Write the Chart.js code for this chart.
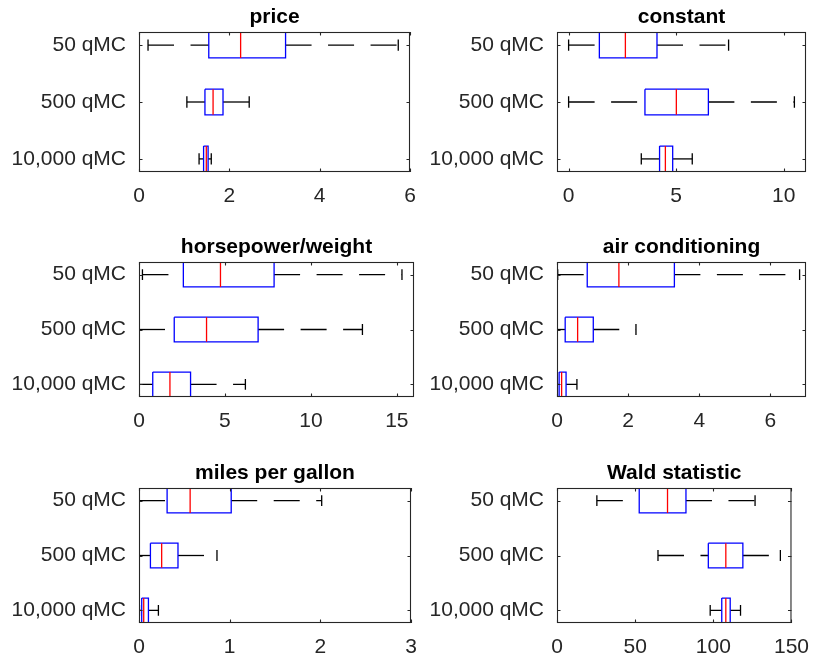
<!DOCTYPE html>
<html><head><meta charset="utf-8">
<script src="https://cdn.jsdelivr.net/npm/chart.js@4/dist/chart.umd.min.js"></script>
<style>
html,body{margin:0;padding:0;background:#fff;}
#wrap{position:relative;width:821px;height:660px;background:#fff;}
#wrap canvas{position:absolute;left:0;top:0;}
</style>
</head><body><div id="wrap"></div>
<script>
// ---- data ----
const categories = ['50 qMC', '500 qMC', '10,000 qMC'];
const titles = ['price', 'constant', 'horsepower/weight', 'air conditioning', 'miles per gallon', 'Wald statistic'];

// price
const priceLow = [0.2, 1.06, 1.33];
const priceQ1  = [1.545, 1.46, 1.43];
const priceMed = [2.25, 1.64, 1.49];
const priceQ3  = [3.245, 1.86, 1.53];
const priceHigh= [5.74, 2.44, 1.6];
const priceTicks = [0, 2, 4, 6];

// constant
const constLow = [0, 0, 3.38];
const constQ1  = [1.43, 3.55, 4.23];
const constMed = [2.64, 5.01, 4.5];
const constQ3  = [4.11, 6.5, 4.84];
const constHigh= [7.44, 10.5, 5.75];
const constTicks = [0, 5, 10];

// horsepower/weight
const hpwLow = [0.2, 0, 0];
const hpwQ1  = [2.58, 2.05, 0.8];
const hpwMed = [4.74, 3.93, 1.8];
const hpwQ3  = [7.86, 6.93, 3.0];
const hpwHigh= [15.3, 13.0, 6.19];
const hpwTicks = [0, 5, 10, 15];

// air conditioning
const acLow = [0.02, 0.01, 0.0];
const acQ1  = [0.85, 0.23, 0.06];
const acMed = [1.74, 0.58, 0.13];
const acQ3  = [3.3, 1.02, 0.255];
const acHigh= [6.82, 2.22, 0.56];
const acTicks = [0, 2, 4, 6];

// miles per gallon
const mpgLow = [0, 0, 0.005];
const mpgQ1  = [0.31, 0.126, 0.03];
const mpgMed = [0.564, 0.25, 0.052];
const mpgQ3  = [1.017, 0.43, 0.104];
const mpgHigh= [2.015, 0.86, 0.214];
const mpgTicks = [0, 1, 2, 3];

// Wald statistic
const waldLow = [25.5, 64.6, 98];
const waldQ1  = [52.6, 96.8, 105.4];
const waldMed = [70.7, 108, 108];
const waldQ3  = [82.5, 118.9, 110.8];
const waldHigh= [126.7, 142.9, 117.4];
const waldTicks = [0, 50, 100, 150];

// ---- layout (pixel plot areas and axis limits) ----
const panels = [
  {stats:[priceLow,priceQ1,priceMed,priceQ3,priceHigh], ticks:priceTicks, xmin:0, xmax:6,   L:139, R:410, T:32,  B:172},
  {stats:[constLow,constQ1,constMed,constQ3,constHigh], ticks:constTicks, xmin:-0.54, xmax:11.04, L:557, R:806, T:32,  B:172},
  {stats:[hpwLow,hpwQ1,hpwMed,hpwQ3,hpwHigh],           ticks:hpwTicks,   xmin:0, xmax:16,  L:139, R:414, T:262, B:397},
  {stats:[acLow,acQ1,acMed,acQ3,acHigh],                ticks:acTicks,    xmin:0, xmax:7,   L:557, R:806, T:262, B:397},
  {stats:[mpgLow,mpgQ1,mpgMed,mpgQ3,mpgHigh],           ticks:mpgTicks,   xmin:0, xmax:3,   L:139, R:411, T:488, B:623},
  {stats:[waldLow,waldQ1,waldMed,waldQ3,waldHigh],      ticks:waldTicks,  xmin:0, xmax:150, L:557, R:806, T:488, B:623},
];

const W = 821, Hh = 660;
const FONT = '"Liberation Sans", Arial, Helvetica, sans-serif';
const AXC = '#262626';
const BOXH = 0.225, CAPH = 0.1, YPAD = 0.23;
const DASH = [26, 16.5];
const LW = 1.3;

const framePlugin = {
  id: 'frame',
  afterDraw(chart) {
    const {ctx, chartArea: a, scales: {x, y}} = chart;
    ctx.save();
    ctx.strokeStyle = AXC; ctx.lineWidth = 1.1;
    ctx.strokeRect(a.left + 0.5, a.top + 0.5, a.right - a.left - 1, a.bottom - a.top - 1);
    const tl = 3.5;
    ctx.beginPath();
    x.ticks.forEach(t => {
      const px = Math.round(x.getPixelForValue(t.value)) + 0.5;
      ctx.moveTo(px, a.bottom); ctx.lineTo(px, a.bottom - tl);
      ctx.moveTo(px, a.top); ctx.lineTo(px, a.top + tl);
    });
    y.ticks.forEach(t => {
      const py = Math.round(y.getPixelForValue(t.value)) + 0.5;
      ctx.moveTo(a.left, py); ctx.lineTo(a.left + tl, py);
      ctx.moveTo(a.right, py); ctx.lineTo(a.right - tl, py);
    });
    ctx.stroke();
    ctx.restore();
  }
};

const wrap = document.getElementById('wrap');

panels.forEach((p, idx) => {
  const cv = document.createElement('canvas');
  cv.width = W; cv.height = Hh;
  cv.style.width = W + 'px'; cv.style.height = Hh + 'px';
  wrap.appendChild(cv);

  const mk = (pts, color, dash) => ({
    data: pts, showLine: true, borderColor: color, backgroundColor: color,
    borderWidth: LW, borderDash: dash || [], pointRadius: 0, pointHoverRadius: 0,
    fill: false, tension: 0
  });
  const datasets = [];
  for (let i = 0; i < categories.length; i++) {
    const y = i + 1;
    const [lo, q1, md, q3, hi] = p.stats.map(a => a[i]);
    datasets.push(mk([{x: md, y: y - BOXH}, {x: md, y: y + BOXH}], '#ff0000'));
    datasets.push(mk([{x: q1, y: y - BOXH}, {x: q3, y: y - BOXH}, {x: q3, y: y + BOXH}, {x: q1, y: y + BOXH}, {x: q1, y: y - BOXH}], '#0000ff'));
    datasets.push(mk([{x: lo, y: y}, {x: q1, y: y}], '#000000', DASH));
    datasets.push(mk([{x: q3, y: y}, {x: hi, y: y}], '#000000', DASH));
    datasets.push(mk([{x: lo, y: y - CAPH}, {x: lo, y: y + CAPH}], '#000000'));
    datasets.push(mk([{x: hi, y: y - CAPH}, {x: hi, y: y + CAPH}], '#000000'));
  }

  const titleFont = 21, titleLH = 1.2;
  const titleBoxH = titleFont * titleLH;
  const titleCenterGap = 15;
  const titleBottomPad = titleCenterGap - titleBoxH / 2;
  const xTicks = p.ticks;

  new Chart(cv, {
    type: 'scatter',
    data: {datasets},
    options: {
      responsive: false, animation: false, devicePixelRatio: 1, events: [],
      layout: {padding: {left: 0, right: W - p.R, top: p.T - titleBoxH - titleBottomPad, bottom: 0}},
      plugins: {
        legend: {display: false}, tooltip: {enabled: false},
        title: {display: true, text: titles[idx], fullSize: false, color: '#000000',
          font: {family: FONT, size: titleFont, weight: 'bold', lineHeight: titleLH},
          padding: {top: 0, bottom: titleBottomPad}}
      },
      scales: {
        x: {
          type: 'linear', min: p.xmin, max: p.xmax,
          grid: {display: false, drawTicks: false}, border: {display: false},
          afterBuildTicks: s => { s.ticks = xTicks.map(v => ({value: v})); },
          afterFit: s => { s.height = Hh - p.B; },
          ticks: {color: AXC, padding: 12, font: {family: FONT, size: 21}, maxRotation: 0, autoSkip: false,
            callback: v => String(v)}
        },
        y: {
          type: 'linear', reverse: true, min: 1 - YPAD, max: categories.length + YPAD,
          grid: {display: false, drawTicks: false}, border: {display: false},
          afterBuildTicks: s => { s.ticks = categories.map((c, i) => ({value: i + 1})); },
          afterFit: s => { s.width = p.L; },
          ticks: {color: AXC, padding: 13, font: {family: FONT, size: 21}, autoSkip: false,
            callback: v => categories[Math.round(v) - 1]}
        }
      }
    },
    plugins: [framePlugin]
  });
});
</script>
</body></html>
